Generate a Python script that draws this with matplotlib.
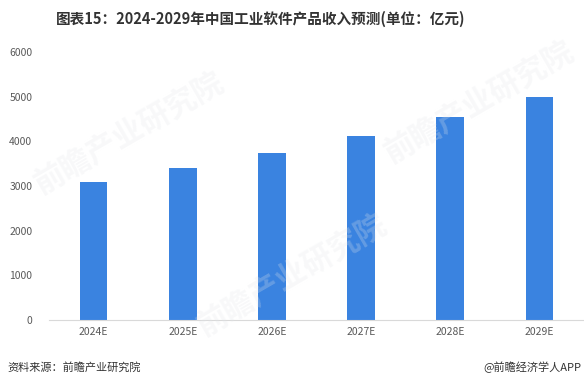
import matplotlib.pyplot as plt

plt.rcParams['font.family'] = ['Noto Sans CJK SC', 'DejaVu Sans']

years = ['2024E', '2025E', '2026E', '2027E', '2028E', '2029E']
revenue = [3090, 3400, 3740, 4120, 4540, 4990]
y_ticks = [0, 1000, 2000, 3000, 4000, 5000, 6000]

fig = plt.figure(figsize=(5.84, 3.92), dpi=100)
ax = fig.add_axes([0.084, 0.1837, 0.916, 0.6833])

# faint watermarks
for wx, wy in [(0.22, 0.66), (0.5, 0.3), (0.82, 0.74)]:
    fig.text(wx, wy, '前瞻产业研究院', fontsize=22, color='#e3e6ea', alpha=0.25,
             rotation=30, ha='center', va='center', fontweight='bold', zorder=0)

x = range(len(years))
ax.bar(x, revenue, width=0.31, color='#3a83e0', zorder=2)
ax.set_xlim(-0.5, len(years) - 0.5)
ax.set_ylim(0, 6000)
ax.set_yticks(y_ticks)
ax.set_xticks(list(x))
ax.set_xticklabels(years)
ax.tick_params(axis='both', length=0, labelsize=7.5, labelcolor='#595959')
ax.tick_params(axis='y', pad=12)
ax.tick_params(axis='x', pad=5)
for s in ['top', 'right', 'left']:
    ax.spines[s].set_visible(False)
ax.spines['bottom'].set_color('#d9d9d9')
ax.patch.set_alpha(0)

fig.text(0.447, 0.952, '图表15：2024-2029年中国工业软件产品收入预测(单位：亿元)',
         ha='center', va='center', fontsize=10.5, fontweight='bold', color='#333333')
fig.text(0.012, 0.062, '资料来源：前瞻产业研究院', ha='left', va='center',
         fontsize=8, color='#333333')
fig.text(0.995, 0.062, '@前瞻经济学人APP', ha='right', va='center',
         fontsize=8, color='#333333')

fig.savefig('out.png', dpi=100)
